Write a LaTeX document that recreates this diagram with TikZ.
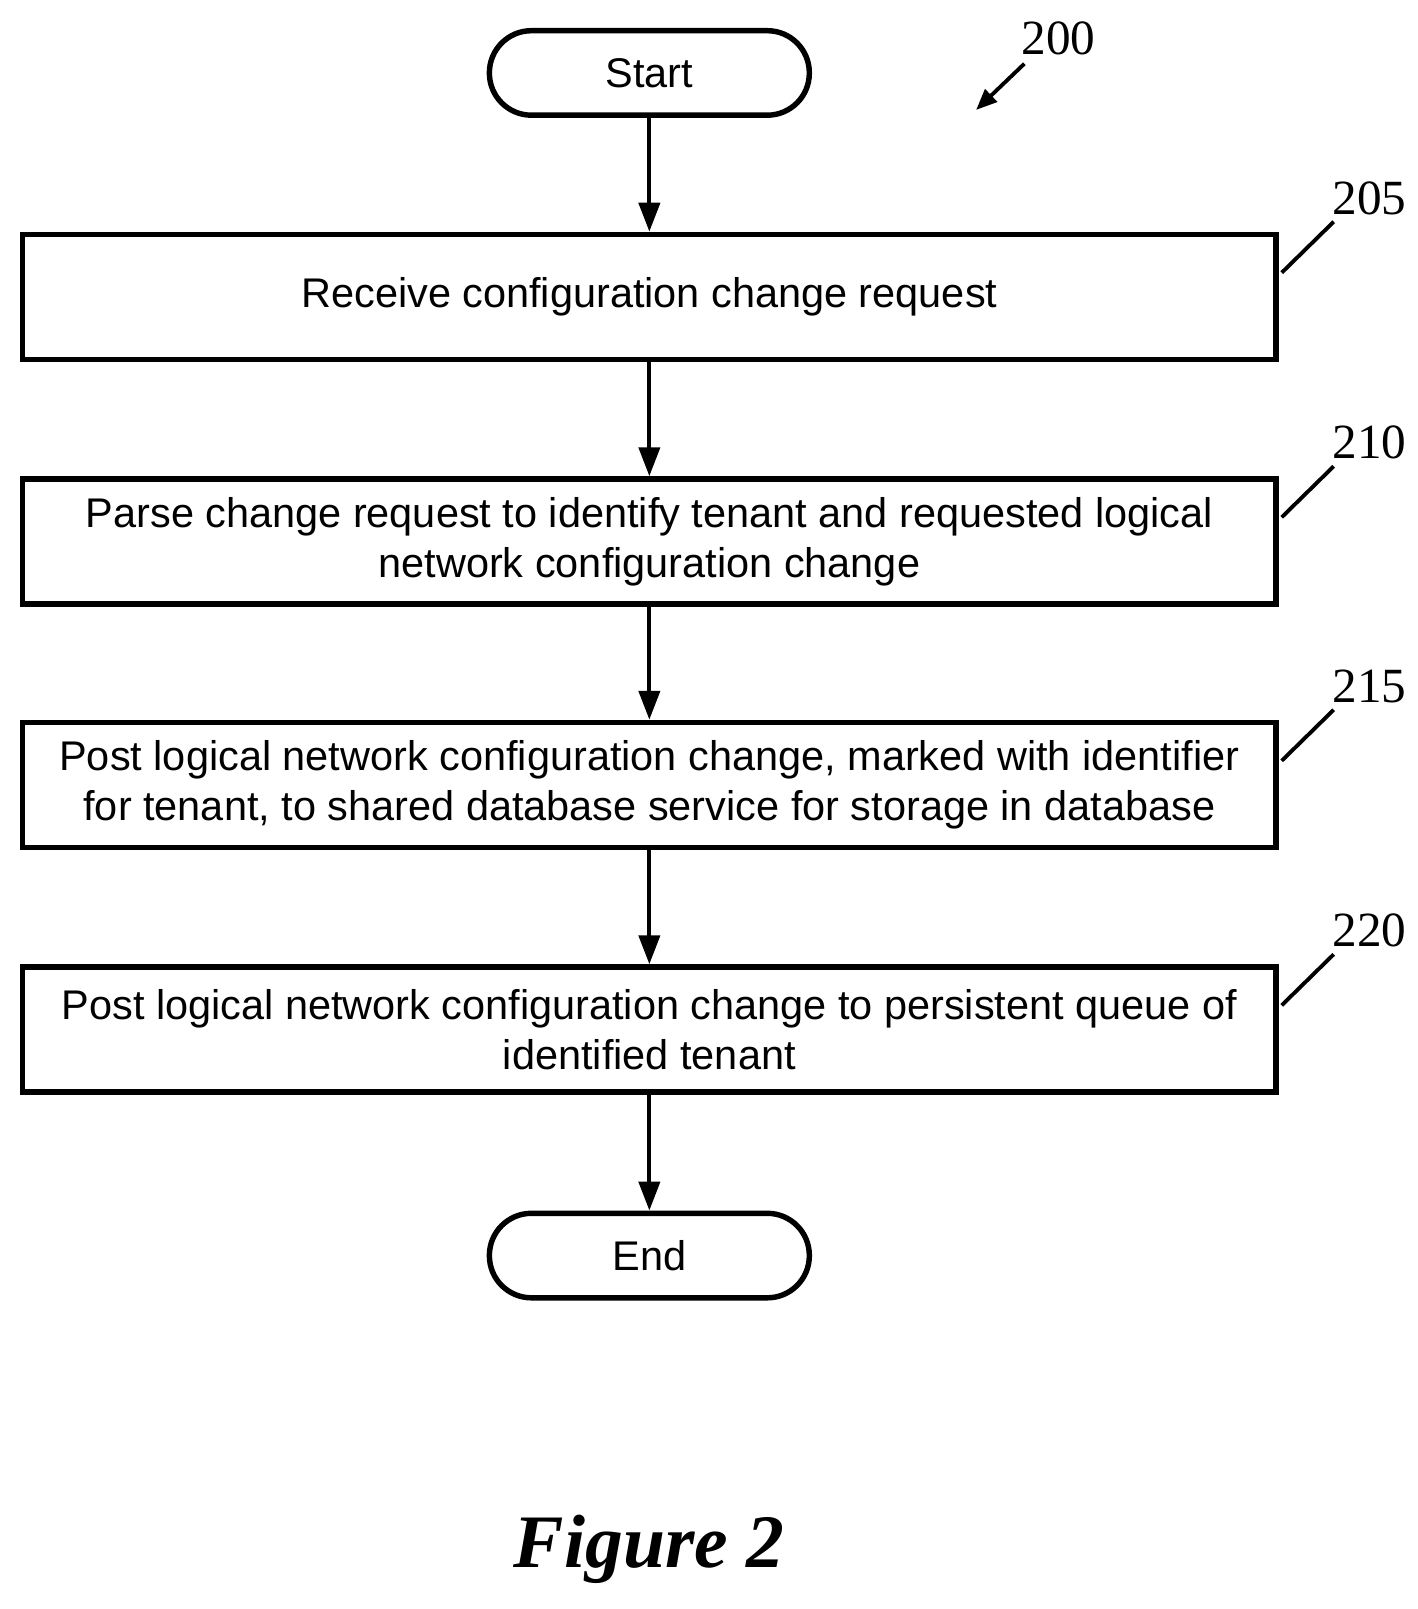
\documentclass[tikz,border=0pt]{standalone}
\usepackage{fontspec}
\setmainfont{Liberation Sans}
\newfontfamily\refnumfont{Liberation Serif}
\usetikzlibrary{arrows.meta,positioning}
\tikzset{
  stepbox/.style={draw, line width=3.1pt, minimum width=25.07cm, minimum height=2.5cm, align=center, font=\fontsize{23.6}{28.5}\selectfont},
  termbox/.style={draw, line width=3.1pt, rounded corners=0.84cm, minimum width=6.4cm, minimum height=1.69cm, font=\fontsize{23.6}{28.5}\selectfont},
  flow/.style={-{Triangle[length=0.58cm,width=0.42cm]}, line width=2.4pt},
  refnum/.style={font=\refnumfont\fontsize{28}{32}\selectfont},
  leader/.style={line width=2.2pt}
}
\begin{document}
\begin{tikzpicture}[x=0.02055cm, y=-0.02055cm]
  \useasboundingbox (0,0) rectangle (1380,1566);

  \node[termbox] (start) at (632,71) {Start};
  \node[stepbox] (recv) at (632,289) {Receive configuration change request};
  \node[stepbox] (parse) at (632,527) {Parse change request to identify tenant and requested logical\\network configuration change};
  \node[stepbox] (postdb) at (632,764) {Post logical network configuration change, marked with identifier\\for tenant, to shared database service for storage in database};
  \node[stepbox] (postq) at (632,1002) {Post logical network configuration change to persistent queue of\\identified tenant};
  \node[termbox] (end) at (632,1222) {End};

  \draw[flow] (start) -- (recv);
  \draw[flow] (recv) -- (parse);
  \draw[flow] (parse) -- (postdb);
  \draw[flow] (postdb) -- (postq);
  \draw[flow] (postq) -- (end);

  % reference numerals
  \node[refnum] (n200) at (1030,37) {200};
  \coordinate (a200) at (950,107);
  \draw[leader, -{Triangle[length=0.42cm,width=0.34cm]}] (997,62) -- (a200);
  \foreach \num/\stp in {205/recv, 210/parse, 215/postdb, 220/postq} {
    \node[refnum, anchor=south west] (n\num) at ([xshift=0.95cm, yshift=0.22cm]\stp.north east) {\num};
    \draw[leader] ([xshift=0.06cm, yshift=-0.82cm]\stp.north east) -- ([xshift=1.1cm, yshift=0.2cm]\stp.north east);
  }

  \node[font=\refnumfont\bfseries\itshape\fontsize{43}{49}\selectfont] (fig) at (632,1508) {Figure 2};
\end{tikzpicture}
\end{document}
